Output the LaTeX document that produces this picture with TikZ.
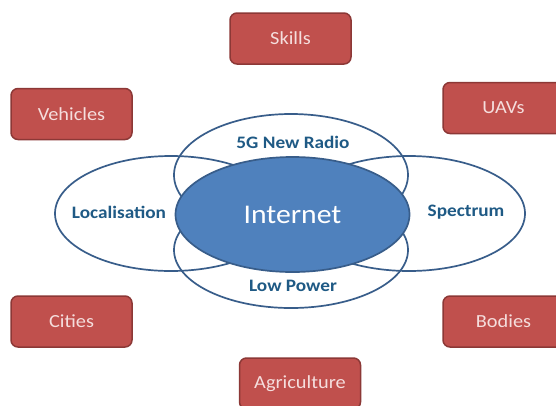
\documentclass[tikz,border=0pt]{standalone}
\usepackage{fontspec}
\setmainfont{Carlito}[FakeStretch=1.1]
\usetikzlibrary{shapes.geometric}
\definecolor{boxfill}{HTML}{C0504D}
\definecolor{boxline}{HTML}{8C3836}
\definecolor{boxtext}{HTML}{F5DEDD}
\definecolor{ringline}{HTML}{385D8A}
\definecolor{coreblue}{HTML}{4F81BD}
\definecolor{labeltext}{HTML}{1F5A85}
\tikzset{
  topic/.style={draw=boxline, line width=1.5pt, fill=boxfill, rounded corners=7pt,
    minimum width=121pt, minimum height=51pt, inner sep=0pt,
    text=boxtext, font=\fontsize{18.5}{21}\selectfont},
  ring/.style={ellipse, draw=ringline, line width=1.7pt, inner sep=0pt},
  ringlabel/.style={text=labeltext, font=\fontsize{17.5}{20}\selectfont\bfseries, inner sep=0pt},
}
\begin{document}
\begin{tikzpicture}[x=1pt,y=-1pt]
\useasboundingbox (0,0) rectangle (556,405);
\fill[white] (0,0) rectangle (556,405);
% topic boxes
\node[topic] (skills) at (290.5,38.5) {Skills};
\node[topic] (vehicles) at (71.5,114) {Vehicles};
\node[topic] (uavs) at (503.5,108) {UAVs};
\node[topic] (cities) at (71.5,321.5) {Cities};
\node[topic] (bodies) at (503.5,321.5) {Bodies};
\node[topic] (agri) at (300,383.5) {Agriculture};
% rings
\node[ring, minimum width=234pt, minimum height=122pt] (radio) at (291,175) {};
\node[ring, minimum width=234pt, minimum height=116pt] (power) at (291,250) {};
\node[ring, minimum width=232pt, minimum height=115pt] (local) at (171,213.5) {};
\node[ring, minimum width=232pt, minimum height=115pt] (spec) at (409,213.5) {};
% core
\node[ellipse, draw=ringline, line width=1.7pt, fill=coreblue, inner sep=0pt,
  minimum width=234pt, minimum height=115pt] (core) at (292.5,214.5) {};
\node[text=white, font=\fontsize{27}{30}\selectfont, inner sep=0pt] (coretext) at (292.5,215) {Internet};
% ring labels
\node[ringlabel] (radiotext) at (293,142) {5G New Radio};
\node[ringlabel] (powertext) at (293,286) {Low Power};
\node[ringlabel] (localtext) at (119,212) {Localisation};
\node[ringlabel] (spectext) at (466,212) {Spectrum};
\end{tikzpicture}
\end{document}
